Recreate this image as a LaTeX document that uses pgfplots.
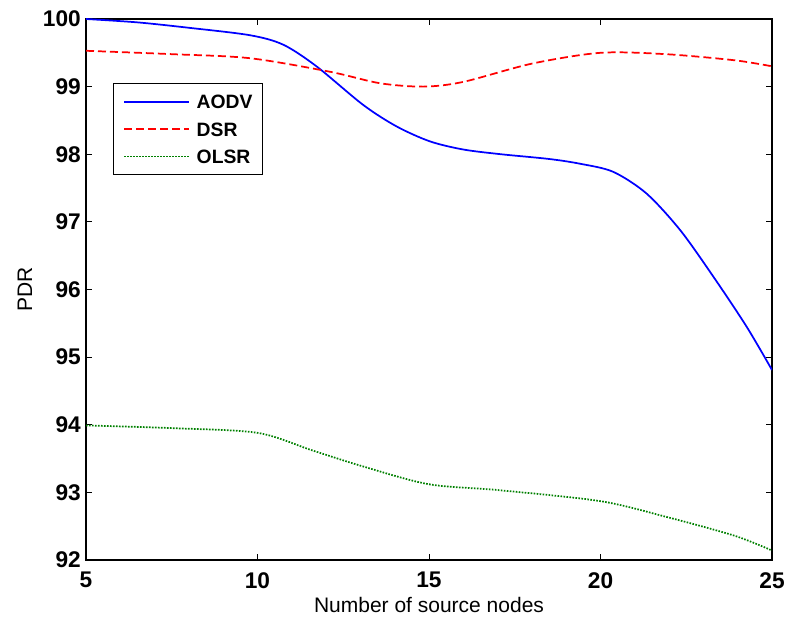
\documentclass[border=0pt]{standalone}
\usepackage{fontspec}
\setmainfont{Liberation Sans}
\usepackage{pgfplots}
\pgfplotsset{compat=1.18}
\definecolor{mgreen}{RGB}{0,128,0}
\begin{document}
\begin{tikzpicture}
\begin{axis}[
    scale only axis,
    width=514.5pt, height=405.75pt,
    xmin=5, xmax=25, ymin=92, ymax=100,
    xtick={5,10,15,20,25},
    ytick={92,93,94,95,96,97,98,99,100},
    tick align=inside,
    major tick length=4.5pt,
    tick style={black, line width=0.6pt},
    axis line style={line width=0.8pt},
    tick label style={font=\fontsize{17}{18}\selectfont\bfseries},
    /pgf/number format/assume math mode=true,
    xticklabel style={inner sep=0pt, yshift=-9pt},
    yticklabel style={inner sep=0pt, xshift=-3.75pt},
    xlabel={Number of source nodes},
    ylabel={PDR},
    xlabel style={at={(axis description cs:0.5,-0.0838)}, anchor=center, inner sep=0pt,
        font=\fontsize{15.75}{17}\selectfont},
    ylabel style={at={(axis description cs:-0.0889,0.5)}, anchor=center, inner sep=0pt,
        font=\fontsize{15.75}{17}\selectfont},
    legend style={at={(0.0389,0.8811)}, anchor=north west,
        font=\fontsize{14.5}{16}\selectfont\bfseries,
        draw=black, line width=0.7pt, inner xsep=7.7pt, inner ysep=8.4pt,
        nodes={inner sep=0pt, text height=10.4pt, text depth=0pt},
        row sep=10.1pt, column sep=5.5pt},
    legend cell align=left,
    legend image code/.code={\draw[#1, line width=1.3pt] (0pt,0pt) -- (48.2pt,0pt);},
]
\addplot[draw=blue, line width=1.3pt, smooth] coordinates {
    (5,100.0) (6.5,99.95) (8,99.87) (9.78,99.76) (10.75,99.62) (11.72,99.30)
    (13.08,98.73) (14.06,98.41) (15.03,98.19) (16.0,98.07) (17.1,98.00)
    (18.5,97.93) (19.4,97.86) (20.37,97.74) (21.34,97.42) (22.32,96.88)
    (23.29,96.19) (24.26,95.45) (25,94.81)
};
\addlegendentry{AODV}
\addplot[draw=red, line width=1.3pt, dash pattern=on 6pt off 3pt, smooth] coordinates {
    (5,99.53) (7.5,99.48) (9.78,99.42) (12.11,99.22) (13.57,99.05) (14.84,99.0)
    (16.0,99.07) (18,99.34) (20,99.50) (21.9,99.48) (23.9,99.39) (25,99.30)
};
\addlegendentry{DSR}
\addplot[draw=mgreen, line width=1.3pt, dash pattern=on 1.2pt off 1.05pt, smooth] coordinates {
    (5,93.99) (7.5,93.95) (10,93.88) (11.6,93.62) (13.1,93.38) (15,93.12)
    (17.1,93.03) (20,92.87) (21.9,92.64) (23.9,92.36) (25,92.14)
};
\addlegendentry{OLSR}
\coordinate (tl) at (rel axis cs:0,1);
\coordinate (br) at (rel axis cs:1,0);
\end{axis}
\path (tl) ++(-64.5pt,14.25pt);
\path (br) ++(9.75pt,-42.75pt);
\end{tikzpicture}
\end{document}
